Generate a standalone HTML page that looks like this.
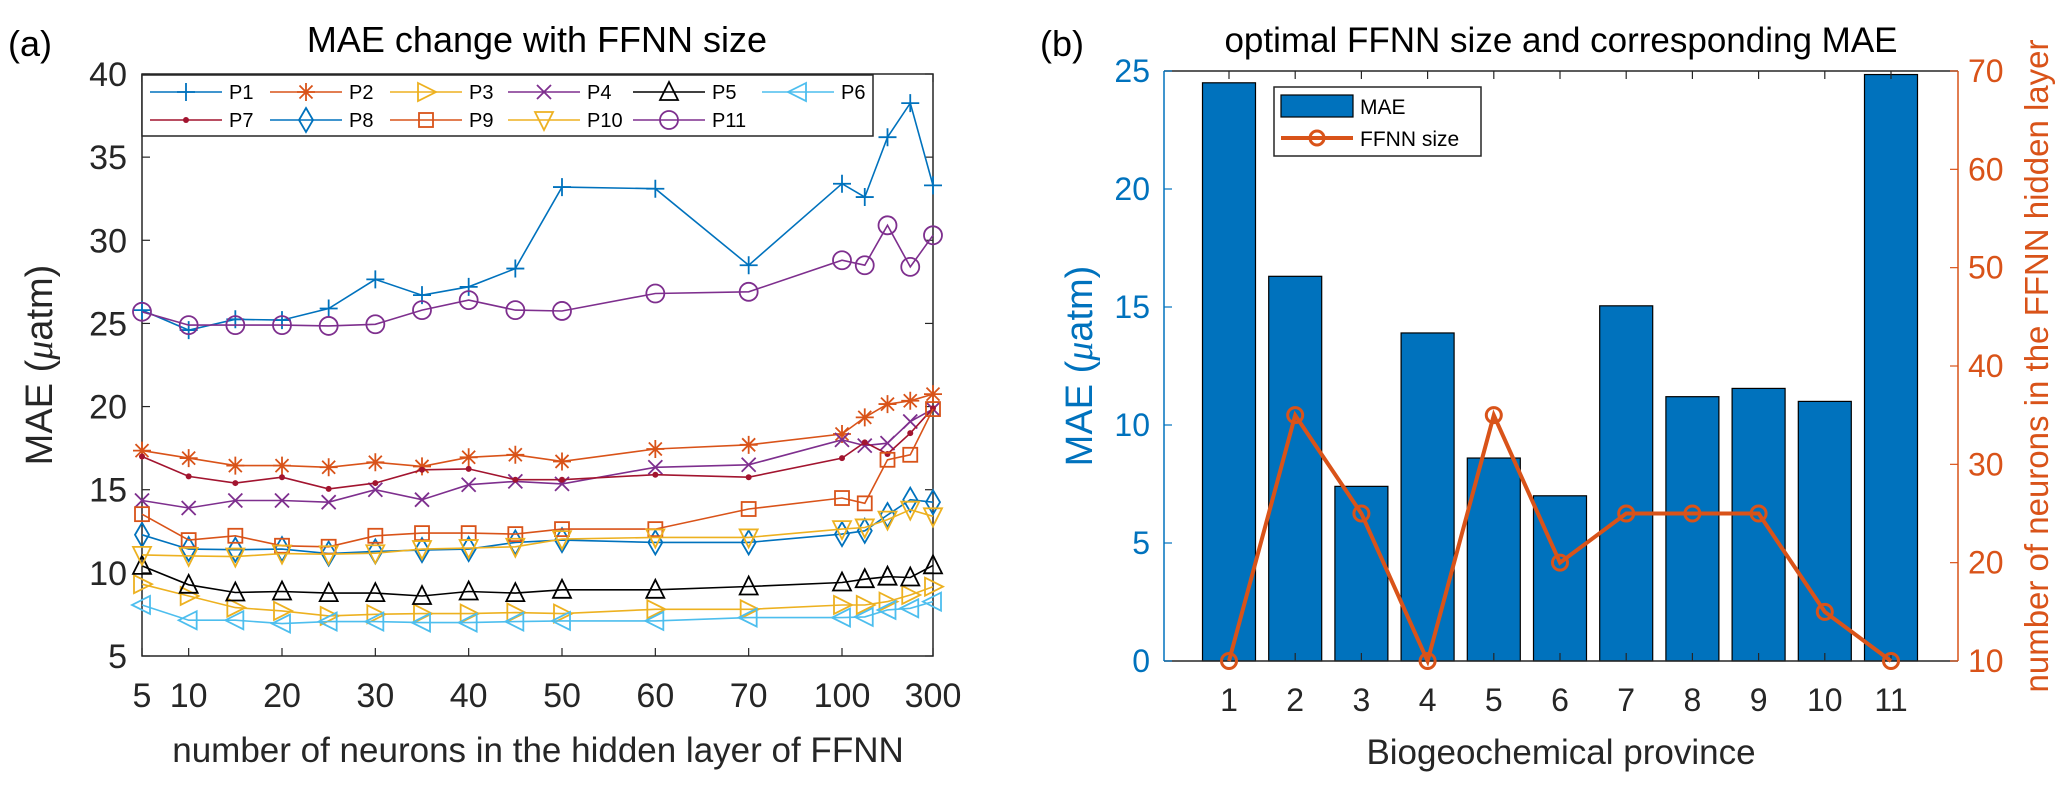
<!DOCTYPE html>
<html><head><meta charset="utf-8"><style>
html,body{margin:0;padding:0;background:#fff;}
svg{display:block;font-family:"Liberation Sans",Arial,sans-serif;}
</style></head><body>
<svg id="fig" width="2067" height="792" viewBox="0 0 2067 792" xmlns="http://www.w3.org/2000/svg">
<g id="left"></g>
<g id="right"></g>
</svg>
<script>
// ---------- Left chart data ----------
const neurons = [5,10,15,20,25,30,35,40,45,50,60,70,100,150,200,250,300];
const xTickVals = [5,10,20,30,40,50,60,70,100,300];
const yTickVals = [5,10,15,20,25,30,35,40];
const seriesNames = ["P1","P2","P3","P4","P5","P6","P7","P8","P9","P10","P11"];
const P1 = [25.8,24.6,25.25,25.2,25.9,27.65,26.7,27.2,28.3,33.2,33.1,28.5,33.4,32.6,36.2,38.25,33.3];
const P2 = [17.35,16.9,16.45,16.45,16.35,16.65,16.4,16.95,17.1,16.7,17.45,17.7,18.35,19.35,20.15,20.35,20.75];
const P3 = [9.32,8.61,7.91,7.71,7.41,7.51,7.55,7.55,7.61,7.55,7.81,7.81,8.07,8.07,8.27,8.67,9.17];
const P4 = [14.35,13.9,14.35,14.35,14.25,15.0,14.4,15.3,15.5,15.35,16.35,16.5,18.0,17.65,17.8,19.1,19.85];
const P5 = [10.42,9.28,8.82,8.88,8.78,8.78,8.61,8.88,8.78,8.98,8.98,9.18,9.42,9.62,9.77,9.72,10.45];
const P6 = [8.07,7.15,7.15,6.95,7.07,7.07,7.01,7.01,7.07,7.11,7.11,7.31,7.31,7.35,7.77,7.87,8.27];
const P7 = [17.0,15.8,15.4,15.75,15.05,15.4,16.2,16.25,15.6,15.6,15.9,15.75,16.9,17.85,17.15,18.4,19.9];
const P8 = [12.29,11.43,11.39,11.43,11.16,11.29,11.37,11.43,11.83,11.97,11.83,11.83,12.33,12.53,13.48,14.4,14.25];
const P9 = [13.53,11.97,12.23,11.63,11.57,12.23,12.39,12.39,12.33,12.63,12.63,13.84,14.5,14.18,16.8,17.1,19.85];
const P10 = [11.08,11.02,10.98,11.16,11.12,11.18,11.43,11.49,11.57,12.03,12.13,12.13,12.63,12.73,13.2,13.8,13.4];
const P11 = [25.7,24.9,24.9,24.9,24.85,24.95,25.8,26.4,25.8,25.75,26.8,26.9,28.8,28.5,30.9,28.4,30.3];
const seriesValues = [P1,P2,P3,P4,P5,P6,P7,P8,P9,P10,P11];

// ---------- Right chart data ----------
const provinces = [1,2,3,4,5,6,7,8,9,10,11];
const maeValues = [24.5,16.3,7.4,13.9,8.6,7.0,15.05,11.2,11.55,11.0,24.85];
const ffnnSizes = [10,35,25,10,35,20,25,25,25,15,10];
const leftTicksR = [0,5,10,15,20,25];
const rightTicksR = [10,20,30,40,50,60,70];

const NS = "http://www.w3.org/2000/svg";
function el(parent, tag, attrs, text) {
  const e = document.createElementNS(NS, tag);
  for (const k in attrs) e.setAttribute(k, attrs[k]);
  if (text !== undefined) e.textContent = text;
  parent.appendChild(e);
  return e;
}

// ===== LEFT CHART =====
const L = document.getElementById("left");
const LX0 = 142, LX1 = 933, LY0 = 656, LY1 = 74;
function lx(n) {
  if (n <= 70) return LX0 + (n - 5) * (LX1 - LX0) / 84.75;
  const s = (LX1 - LX0) / 8.475;
  const x70 = LX0 + 65 * s / 10;
  if (n <= 100) return x70 + (n - 70) / 30 * s;
  return x70 + s + (n - 100) / 200 * (LX1 - (x70 + s));
}
function ly(v) { return LY0 - (v - 5) * (LY0 - LY1) / 35; }

const colors = ["#0072BD","#D95319","#EDB120","#7E2F8E","#000000","#4DBEEE","#A2142F","#0072BD","#D95319","#EDB120","#7E2F8E"];
const markers = ["+","*",">","x","^","<",".","d","s","v","o"];

function drawMarker(g, type, x, y, c) {
  const sw = 1.8;
  let m;
  switch (type) {
    case "+": m = el(g,"path",{d:`M${x-9} ${y}H${x+9}M${x} ${y-9}V${y+9}`,stroke:c,"stroke-width":sw,fill:"none"}); break;
    case "x": m = el(g,"path",{d:`M${x-7} ${y-7}L${x+7} ${y+7}M${x-7} ${y+7}L${x+7} ${y-7}`,stroke:c,"stroke-width":sw,fill:"none"}); break;
    case "*": m = el(g,"path",{d:`M${x-9} ${y}H${x+9}M${x} ${y-9}V${y+9}M${x-6.5} ${y-6.5}L${x+6.5} ${y+6.5}M${x-6.5} ${y+6.5}L${x+6.5} ${y-6.5}`,stroke:c,"stroke-width":sw,fill:"none"}); break;
    case ">": m = el(g,"path",{d:`M${x-8} ${y-9}L${x+10} ${y}L${x-8} ${y+9}Z`,stroke:c,"stroke-width":sw,fill:"none"}); break;
    case "<": m = el(g,"path",{d:`M${x+8} ${y-9}L${x-10} ${y}L${x+8} ${y+9}Z`,stroke:c,"stroke-width":sw,fill:"none"}); break;
    case "^": m = el(g,"path",{d:`M${x-9} ${y+8}L${x} ${y-10}L${x+9} ${y+8}Z`,stroke:c,"stroke-width":sw,fill:"none"}); break;
    case "v": m = el(g,"path",{d:`M${x-9} ${y-8}L${x} ${y+10}L${x+9} ${y-8}Z`,stroke:c,"stroke-width":sw,fill:"none"}); break;
    case "d": m = el(g,"path",{d:`M${x} ${y-12}L${x+7} ${y}L${x} ${y+12}L${x-7} ${y}Z`,stroke:c,"stroke-width":sw,fill:"none"}); break;
    case "s": m = el(g,"rect",{x:x-7,y:y-7,width:14,height:14,stroke:c,"stroke-width":sw,fill:"none"}); break;
    case "o": m = el(g,"circle",{cx:x,cy:y,r:9,stroke:c,"stroke-width":sw,fill:"none"}); break;
    case ".": m = el(g,"circle",{cx:x,cy:y,r:3,fill:c}); break;
  }
  return m;
}

const lframe = el(L,"rect",{x:LX0,y:LY1,width:LX1-LX0,height:LY0-LY1,fill:"none",stroke:"#262626","stroke-width":1.5});



xTickVals.forEach(v => {
  const x = lx(v);
  el(L,"line",{x1:x,y1:LY0,x2:x,y2:LY0-8,stroke:"#262626","stroke-width":1.2});
  el(L,"line",{x1:x,y1:LY1,x2:x,y2:LY1+8,stroke:"#262626","stroke-width":1.2});
  const t = el(L,"text",{x:x,y:707,"font-size":34,"text-anchor":"middle",fill:"#262626"},String(v));
  
  
});
yTickVals.forEach(v => {
  const y = ly(v);
  el(L,"line",{x1:LX0,y1:y,x2:LX0+8,y2:y,stroke:"#262626","stroke-width":1.2});
  el(L,"line",{x1:LX1,y1:y,x2:LX1-8,y2:y,stroke:"#262626","stroke-width":1.2});
  const t = el(L,"text",{x:127,y:y+12,"font-size":34,"text-anchor":"end",fill:"#262626"},String(v));
  
  
});

seriesValues.forEach((vals, i) => {
  const g = el(L,"g",{});
  
  
  const pts = vals.map((v, j) => lx(neurons[j]).toFixed(1) + "," + ly(v).toFixed(1)).join(" ");
  el(g,"polyline",{points:pts,fill:"none",stroke:colors[i],"stroke-width":1.6});
  vals.forEach((v, j) => {
    const m = drawMarker(g, markers[i], lx(neurons[j]), ly(v), colors[i]);
    
    
  });
});

const lg = el(L,"g",{});


el(lg,"rect",{x:LX0,y:LY1+1,width:731,height:61,fill:"#fff",stroke:"#262626","stroke-width":1.5});
const colX = [150,270,390,508,633,762];
seriesNames.forEach((name, i) => {
  const col = i % 6, row = Math.floor(i / 6);
  const x = colX[col], y = row === 0 ? 92 : 120;
  const e = el(lg,"g",{});
  
  
  el(e,"line",{x1:x,y1:y,x2:x+72,y2:y,stroke:colors[i],"stroke-width":1.6});
  drawMarker(e, markers[i], x+36, y, colors[i]);
  el(e,"text",{x:x+79,y:y+7,"font-size":20,fill:"#000"},name);
});

let t;
t = el(L,"text",{x:537,y:52,"font-size":36,"text-anchor":"middle",fill:"#000"},"MAE change with FFNN size");
 
t = el(L,"text",{x:8,y:56,"font-size":36,fill:"#000"},"(a)");
 
t = el(L,"text",{x:538,y:762,"font-size":35,"text-anchor":"middle",fill:"#262626"},"number of neurons in the hidden layer of FFNN");
 
t = el(L,"text",{x:0,y:0,"font-size":38,"text-anchor":"middle",fill:"#262626",transform:`translate(52,${(LY0+LY1)/2}) rotate(-90)`});
t.innerHTML = 'MAE (<tspan font-family="Liberation Serif" font-style="italic">μ</tspan>atm)';
 

// ===== RIGHT CHART =====
const R = document.getElementById("right");
const RX0 = 1164, RX1 = 1958, RY0 = 661, RY1 = 71;
const blue = "#0072BD", orange = "#D95319";
function rx(p) { return 1229 + (p - 1) * (1891 - 1229) / 10; }
function ryL(v) { return RY0 - v * (RY0 - RY1) / 25; }
function ryR(v) { return RY0 - (v - 10) * (RY0 - RY1) / 60; }
const barW = 53;

provinces.forEach((p, i) => {
  const b = el(R,"rect",{x:rx(p)-barW/2,y:ryL(maeValues[i]),width:barW,height:RY0-ryL(maeValues[i]),fill:blue,stroke:"#000","stroke-width":1.2});
  
  
});
el(R,"line",{x1:RX0,y1:RY1,x2:RX1,y2:RY1,stroke:"#262626","stroke-width":1.5});
el(R,"line",{x1:RX0,y1:RY0,x2:RX1,y2:RY0,stroke:"#262626","stroke-width":1.5});
el(R,"line",{x1:RX0,y1:RY1,x2:RX0,y2:RY0,stroke:blue,"stroke-width":1.5});
el(R,"line",{x1:RX1,y1:RY1,x2:RX1,y2:RY0,stroke:orange,"stroke-width":1.5});
provinces.forEach(p => {
  el(R,"line",{x1:rx(p),y1:RY0,x2:rx(p),y2:RY0-8,stroke:"#262626","stroke-width":1.2});
  el(R,"line",{x1:rx(p),y1:RY1,x2:rx(p),y2:RY1+8,stroke:"#262626","stroke-width":1.2});
  const tt = el(R,"text",{x:rx(p),y:711,"font-size":32,"text-anchor":"middle",fill:"#262626"},String(p));
   
});
leftTicksR.forEach(v => {
  el(R,"line",{x1:RX0,y1:ryL(v),x2:RX0+8,y2:ryL(v),stroke:blue,"stroke-width":1.2});
  const tt = el(R,"text",{x:1150,y:ryL(v)+11,"font-size":32,"text-anchor":"end",fill:blue},String(v));
   
});
rightTicksR.forEach(v => {
  el(R,"line",{x1:RX1,y1:ryR(v),x2:RX1-8,y2:ryR(v),stroke:orange,"stroke-width":1.2});
  const tt = el(R,"text",{x:1968,y:ryR(v)+11,"font-size":32,fill:orange},String(v));
   
});
const lineG = el(R,"g",{});


el(lineG,"polyline",{points:provinces.map((p,i)=>rx(p).toFixed(1)+","+ryR(ffnnSizes[i]).toFixed(1)).join(" "),fill:"none",stroke:orange,"stroke-width":4});
provinces.forEach((p, i) => {
  const c = el(lineG,"circle",{cx:rx(p),cy:ryR(ffnnSizes[i]),r:7.5,fill:"none",stroke:orange,"stroke-width":3});
  
  
});
const rg = el(R,"g",{});


el(rg,"rect",{x:1274,y:87,width:207,height:69,fill:"#fff",stroke:"#262626","stroke-width":1.5});
el(rg,"rect",{x:1281,y:95,width:72,height:22,fill:blue,stroke:"#000","stroke-width":1.2});
el(rg,"text",{x:1360,y:114,"font-size":21,fill:"#000"},"MAE");
el(rg,"line",{x1:1281,y1:138,x2:1353,y2:138,stroke:orange,"stroke-width":4});
el(rg,"circle",{cx:1317,cy:138,r:7,fill:"none",stroke:orange,"stroke-width":3});
el(rg,"text",{x:1360,y:146,"font-size":21,fill:"#000"},"FFNN size");
t = el(R,"text",{x:1561,y:52,"font-size":35,"text-anchor":"middle",fill:"#000"},"optimal FFNN size and corresponding MAE");
 
t = el(R,"text",{x:1040,y:56,"font-size":36,fill:"#000"},"(b)");
 
t = el(R,"text",{x:1561,y:764,"font-size":35,"text-anchor":"middle",fill:"#262626"},"Biogeochemical province");
 
t = el(R,"text",{x:0,y:0,"font-size":38,"text-anchor":"middle",fill:blue,transform:`translate(1092,${(RY0+RY1)/2}) rotate(-90)`});
t.innerHTML = 'MAE (<tspan font-family="Liberation Serif" font-style="italic">μ</tspan>atm)';
 
t = el(R,"text",{x:0,y:0,"font-size":33,"text-anchor":"middle",fill:orange,transform:`translate(2048,${(RY0+RY1)/2}) rotate(-90)`},"number of neurons in the FFNN hidden layer");
 
</script>
</body></html>
